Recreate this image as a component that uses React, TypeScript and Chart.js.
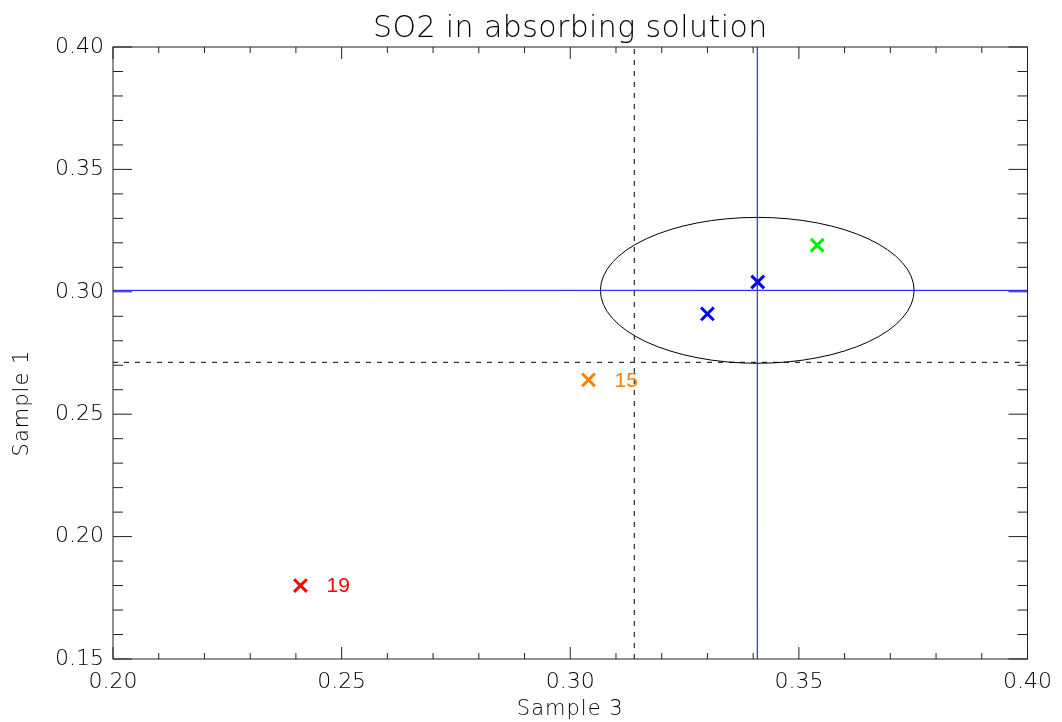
import React, { useEffect, useRef } from "react";
import { Chart, registerables } from "chart.js";

Chart.register(...registerables);

// Sample ids and coordinates (Sample 3 on x, Sample 1 on y)
const sampleIds = ["19", "15", "", "", ""];
const sample3 = [0.241, 0.304, 0.33, 0.341, 0.354];
const sample1 = [0.18, 0.264, 0.291, 0.304, 0.319];
const markerColors = ["#ff0000", "#ff7f00", "#0000ff", "#0000ff", "#00ee00"];

// Reference values: consensus (blue), lower limits (dashed), confidence ellipse
const meanX = 0.3409;
const meanY = 0.3006;
const limitX = 0.314;
const limitY = 0.2712;
const ellipseRadiusX = 0.0343;
const ellipseRadiusY = 0.0298;

// Axis ranges
const xRange = [0.2, 0.4];
const yRange = [0.15, 0.4];
const majorStep = 0.05;
const minorStep = 0.01;

const FONT = "'DejaVu Sans', 'Noto Sans', sans-serif";

const overlayPlugin = {
  id: "overlay",
  beforeDatasetsDraw(chart: any) {
    const { ctx, scales } = chart;
    const x = scales.x;
    const y = scales.y;
    const cx = x.getPixelForValue(meanX);
    const cy = y.getPixelForValue(meanY);
    const rx = Math.abs(x.getPixelForValue(meanX + ellipseRadiusX) - cx);
    const ry = Math.abs(y.getPixelForValue(meanY + ellipseRadiusY) - cy);
    ctx.save();
    ctx.strokeStyle = "#000";
    ctx.lineWidth = 1;
    ctx.beginPath();
    ctx.ellipse(cx, cy, rx, ry, 0, 0, Math.PI * 2);
    ctx.stroke();
    ctx.restore();
  },
  afterDraw(chart: any) {
    const { ctx, scales, chartArea } = chart;
    const x = scales.x;
    const y = scales.y;
    const { left, right, top, bottom } = chartArea;
    ctx.save();
    ctx.strokeStyle = "#222";
    ctx.lineWidth = 1;
    // frame
    ctx.strokeRect(left, top, right - left, bottom - top);

    // tick marks on all four sides, pointing inward
    const nX = Math.round((xRange[1] - xRange[0]) / minorStep);
    ctx.beginPath();
    for (let i = 0; i <= nX; i++) {
      const v = xRange[0] + i * minorStep;
      const px = x.getPixelForValue(v);
      const major = i % Math.round(majorStep / minorStep) === 0;
      const len = major ? 12 : 6;
      ctx.moveTo(px, bottom);
      ctx.lineTo(px, bottom - len);
      ctx.moveTo(px, top);
      ctx.lineTo(px, top + len);
    }
    const nY = Math.round((yRange[1] - yRange[0]) / minorStep);
    for (let i = 0; i <= nY; i++) {
      const v = yRange[0] + i * minorStep;
      const py = y.getPixelForValue(v);
      const major = i % Math.round(majorStep / minorStep) === 0;
      const len = major ? 19 : 10;
      ctx.moveTo(left, py);
      ctx.lineTo(left + len, py);
      ctx.moveTo(right, py);
      ctx.lineTo(right - len, py);
    }
    ctx.stroke();

    // sample id labels next to markers
    const meta = chart.getDatasetMeta(0);
    ctx.font = "21px 'Liberation Sans', Arial, sans-serif";
    ctx.textAlign = "left";
    ctx.textBaseline = "middle";
    meta.data.forEach((pt: any, i: number) => {
      if (!sampleIds[i]) return;
      ctx.fillStyle = markerColors[i];
      ctx.fillText(sampleIds[i], pt.x + 26, pt.y + 1);
    });

    // title and axis titles
    ctx.fillStyle = "#000";
    ctx.textAlign = "center";
    ctx.textBaseline = "alphabetic";
    ctx.font = `200 30px ${FONT}`;
    (ctx as any).letterSpacing = "0.4px";
    ctx.fillText("SO2 in absorbing solution", (left + right) / 2, 37);
    ctx.font = `200 21px ${FONT}`;
    (ctx as any).letterSpacing = "1px";
    ctx.fillText("Sample 3", (left + right) / 2, 715);
    ctx.translate(28, (top + bottom) / 2 + 50);
    ctx.rotate(-Math.PI / 2);
    ctx.fillText("Sample 1", 0, 0);
    ctx.restore();
  },
};

export default function App() {
  const canvasRef = useRef<HTMLCanvasElement | null>(null);

  useEffect(() => {
    if (!canvasRef.current) return;
    const points = sample3.map((v, i) => ({ x: v, y: sample1[i] }));
    const chart = new Chart(canvasRef.current, {
      type: "scatter",
      data: {
        datasets: [
          {
            data: points,
            pointStyle: "crossRot",
            pointRadius: 9,
            pointBorderWidth: 3,
            pointBorderColor: markerColors,
            pointBackgroundColor: markerColors,
            showLine: false,
          },
          {
            data: [{ x: meanX, y: yRange[0] }, { x: meanX, y: yRange[1] }],
            showLine: true,
            borderColor: "#0000ff",
            borderWidth: 1,
            pointRadius: 0,
          },
          {
            data: [{ x: xRange[0], y: meanY }, { x: xRange[1], y: meanY }],
            showLine: true,
            borderColor: "#0000ff",
            borderWidth: 1,
            pointRadius: 0,
          },
          {
            data: [{ x: limitX, y: yRange[0] }, { x: limitX, y: yRange[1] }],
            showLine: true,
            borderColor: "#000",
            borderWidth: 1,
            borderDash: [5, 6],
            pointRadius: 0,
          },
          {
            data: [{ x: xRange[0], y: limitY }, { x: xRange[1], y: limitY }],
            showLine: true,
            borderColor: "#000",
            borderWidth: 1,
            borderDash: [5, 6],
            pointRadius: 0,
          },
        ],
      } as any,
      options: {
        responsive: false,
        animation: false,
        events: [],
        layout: { padding: { top: 47, right: 33, left: 0, bottom: 0 } },
        plugins: { legend: { display: false }, tooltip: { enabled: false }, title: { display: false } },
        scales: {
          x: {
            type: "linear",
            min: xRange[0],
            max: xRange[1],
            grid: { display: false, drawTicks: false },
            border: { display: false },
            ticks: {
              stepSize: majorStep,
              autoSkip: false,
              maxRotation: 0,
              padding: 10,
              color: "#000",
              font: { family: FONT, size: 22, weight: "200" as any },
              callback: (v: any) => Number(v).toFixed(2),
            },
            afterFit: (s: any) => {
              s.height = 63;
            },
          },
          y: {
            type: "linear",
            min: yRange[0],
            max: yRange[1],
            grid: { display: false, drawTicks: false },
            border: { display: false },
            ticks: {
              stepSize: majorStep,
              autoSkip: false,
              padding: 9,
              color: "#000",
              font: { family: FONT, size: 22, weight: "200" as any },
              callback: (v: any) => Number(v).toFixed(2),
            },
            afterFit: (s: any) => {
              s.width = 113;
            },
          },
        },
      },
      plugins: [overlayPlugin],
    });
    return () => chart.destroy();
  }, []);

  return (
    <div style={{ position: "absolute", left: 0, top: 0, width: 1062, height: 722, background: "#fff" }}>
      <canvas ref={canvasRef} width={1062} height={722} />
    </div>
  );
}
